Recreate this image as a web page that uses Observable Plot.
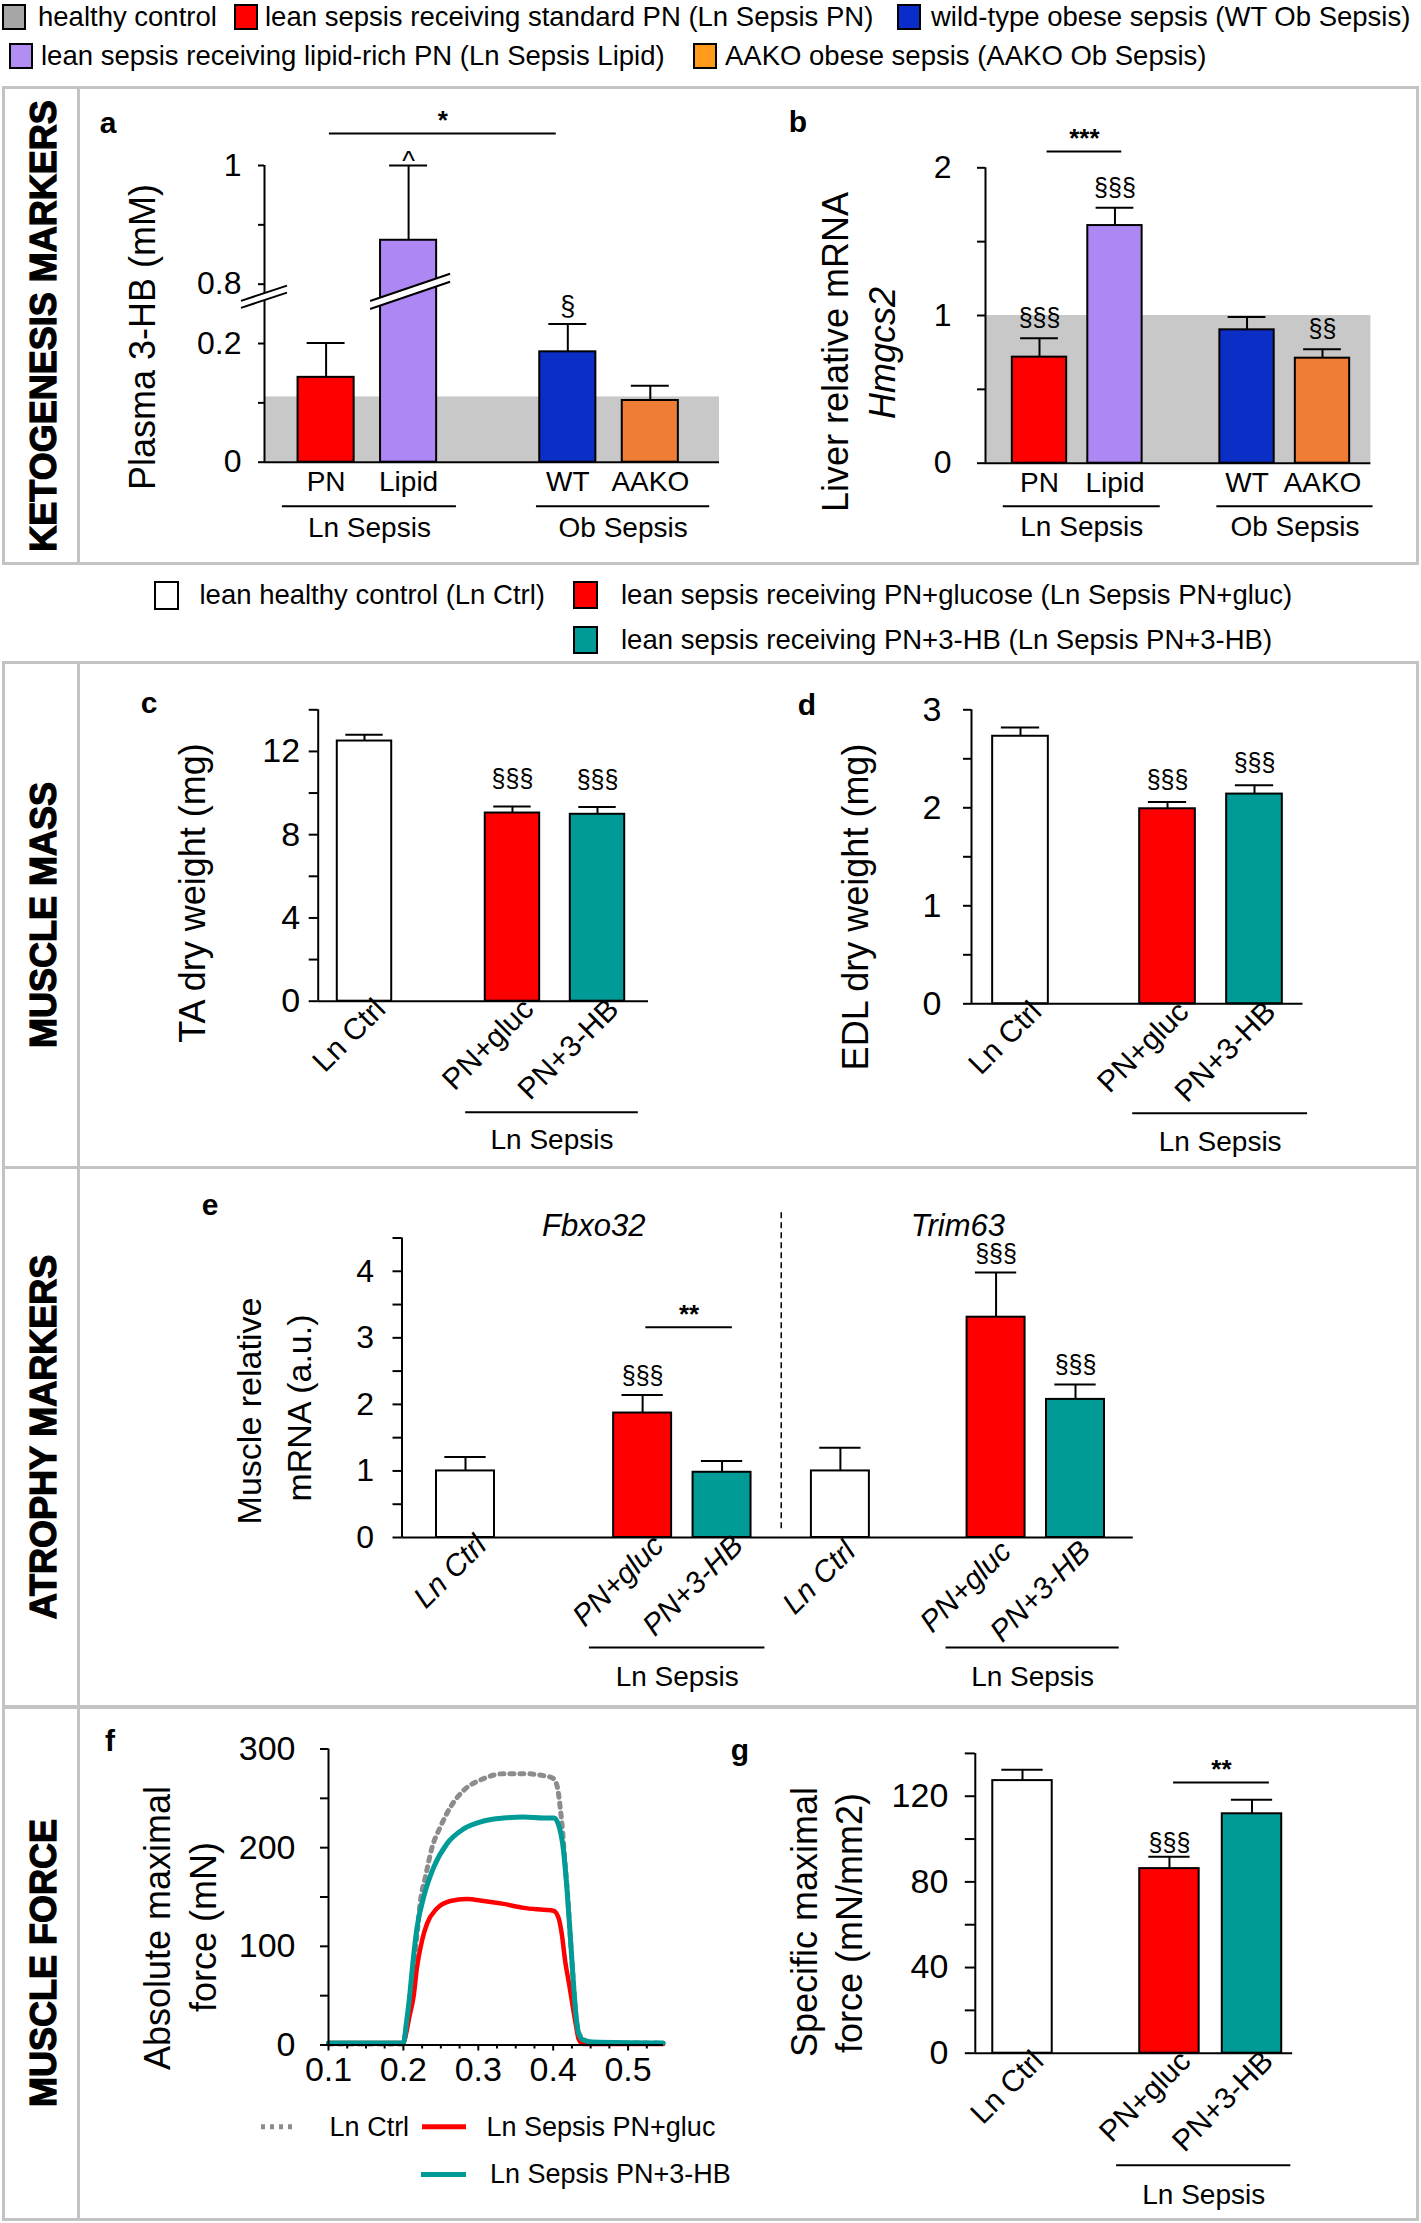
<!DOCTYPE html>
<html><head><meta charset="utf-8">
<script src="https://cdn.jsdelivr.net/npm/d3@7"></script>
<script src="https://cdn.jsdelivr.net/npm/@observablehq/plot@0.6"></script>
<style>
body{margin:0;background:#fff;}
#fig{position:relative;width:1421px;height:2223px;font-family:"Liberation Sans",Arial,Helvetica,sans-serif;color:#000;overflow:hidden;background:#fff}
.abs{position:absolute;white-space:nowrap;line-height:1}
.box{position:absolute;border:3px solid #c3c3c3;box-sizing:border-box}
.plot{position:absolute}
</style></head><body><div id="fig"></div>
<script>
// ---------------- DATA ----------------
const ketoCats = ["PN", "Lipid", "WT", "AAKO"];
const ketoColors = ["#ff0000", "#ad88f4", "#0b2fc6", "#f07d35"];
const plasma3HB = [0.143, 0.874, 0.186, 0.104];
const plasma3HBErr = [0.201, 1.0, 0.233, 0.129];
const plasma3HBSig = ["", "^", "§", ""];
const plasma3HBCtrl = 0.11;
const hmgcs2 = [0.718, 1.609, 0.903, 0.711];
const hmgcs2Err = [0.846, 1.729, 0.989, 0.772];
const hmgcs2Sig = ["§§§", "§§§", "", "§§"];
const hmgcs2Ctrl = 1.0;

const muscleCats = ["Ln Ctrl", "PN+gluc", "PN+3-HB"];
const muscleColors = ["#ffffff", "#ff0000", "#009b96"];
const taWeight = [12.5, 9.04, 8.98];
const taErr = [12.8, 9.36, 9.33];
const taSig = ["", "§§§", "§§§"];
const edlWeight = [2.73, 1.99, 2.14];
const edlErr = [2.82, 2.06, 2.23];
const edlSig = ["", "§§§", "§§§"];
const fbxo32 = [1.0, 1.87, 0.98];
const fbxo32Err = [1.21, 2.14, 1.15];
const fbxo32Sig = ["", "§§§", ""];
const trim63 = [1.0, 3.31, 2.075];
const trim63Err = [1.35, 3.98, 2.30];
const trim63Sig = ["", "§§§", "§§§"];
const specForce = [127.3, 86.2, 111.8];
const specForceErr = [132.4, 91.7, 118.4];
const specForceSig = ["", "§§§", ""];

// force traces [time (s), force (mN)]
const ctrlTrace = [[0.1,1],[0.2,1],[0.204,20],[0.2084,48],[0.2138,79],[0.2182,112],[0.2227,146],[0.2293,170],[0.2382,200],[0.2493,221],[0.2627,241],[0.2804,258],[0.3071,270],[0.3338,275],[0.3604,275],[0.3871,273],[0.4004,270],[0.4057,261],[0.4093,241],[0.4129,214],[0.4156,187],[0.4195,150],[0.4227,112],[0.4271,62],[0.4304,30],[0.434,12],[0.445,4],[0.46,2],[0.547,2]];
const glucTrace = [[0.1,2],[0.2,2],[0.2025,8],[0.2084,30],[0.2138,50],[0.2182,79],[0.2249,106],[0.2316,123],[0.2444,138],[0.2627,146],[0.2844,148],[0.3071,146],[0.3338,143],[0.3604,139],[0.3871,137],[0.4004,136],[0.4071,129],[0.4116,112],[0.416,85],[0.4212,62],[0.4304,20],[0.434,6],[0.44,1],[0.547,1]];
const hbTrace = [[0.1,2],[0.2,2],[0.204,22],[0.2084,50],[0.2129,85],[0.2182,119],[0.2271,150],[0.2404,180],[0.2582,204],[0.2804,219],[0.3071,227],[0.3338,230],[0.3604,231],[0.3871,230],[0.4013,230],[0.4084,220],[0.4138,197],[0.4182,160],[0.4227,112],[0.4271,62],[0.4304,30],[0.434,12],[0.44,5],[0.452,3],[0.547,2]];

// ---------------- HELPERS ----------------
const fig = document.getElementById("fig");
const FONT = '"Liberation Sans", Arial, Helvetica, sans-serif';
function addDiv(html, css) { const d = document.createElement("div"); d.className = "abs"; d.innerHTML = html; Object.assign(d.style, css); fig.appendChild(d); return d; }
function hText(t, x, yc, size, extra = {}) { return addDiv(t, Object.assign({left: x + "px", top: yc + "px", fontSize: size + "px", transform: "translateY(-50%)"}, extra)); }
function cText(t, cx, cy, size, extra = {}) { return addDiv(t, Object.assign({left: cx + "px", top: cy + "px", fontSize: size + "px", transform: "translate(-50%,-50%)"}, extra)); }
function vText(t, cx, cy, size, extra = {}) { return addDiv(t, Object.assign({left: cx + "px", top: cy + "px", fontSize: size + "px", transform: "translate(-50%,-50%) rotate(-90deg)"}, extra)); }
function box(l, t, w, h) { const d = document.createElement("div"); d.className = "box"; Object.assign(d.style, {left: l + "px", top: t + "px", width: w + "px", height: h + "px"}); fig.appendChild(d); }
function vline(x, t, b) { const d = document.createElement("div"); Object.assign(d.style, {position: "absolute", left: x + "px", top: t + "px", width: "3px", height: (b - t) + "px", background: "#c3c3c3"}); fig.appendChild(d); }
function swatch(x, y, w, h, color) { const d = document.createElement("div"); Object.assign(d.style, {position: "absolute", left: x + "px", top: y + "px", width: w + "px", height: h + "px", background: color, border: "2px solid #000", boxSizing: "border-box"}); fig.appendChild(d); }
function place(svg, left, top) { const d = document.createElement("div"); d.className = "plot"; d.style.left = left + "px"; d.style.top = top + "px"; d.appendChild(svg); fig.appendChild(d); }
const baseStyle = {fontFamily: FONT, fontSize: "27px", overflow: "visible", background: "transparent", color: "#000"};

function barPanel(o) {
  const n = o.pos.length;
  const unit = (o.c1 - o.c0) / (o.pos[n - 1] - o.pos[0]);
  const uL = o.pos[0] + (o.axisX - o.c0) / unit;
  const uR = o.pos[0] + (o.xEnd - o.c0) / unit;
  const tr = o.tr || (v => v);
  const xFont = o.xFont || 28;
  const data = o.labels.map((lab, i) => ({pos: o.pos[i], lab, v: tr(o.values[i]), e: tr(o.errs[i]), sig: o.sigs[i], fill: o.colors[i]}));
  const labMap = new Map(data.map(d => [d.pos, d.lab]));
  const groups = (o.groups || []).map(g => ({name: g.name, x1: o.pos[g.from] - g.padL, x2: o.pos[g.to] + g.padR}));
  const brackets = (o.brackets || []).map(b => ({label: b.label, y: tr(b.level), x1: o.pos[b.from] + b.offL, x2: o.pos[b.to] + b.offR}));
  const marks = [];
  if (o.band != null) marks.push(Plot.rect([tr(o.band)], {x1: () => uL, x2: () => uR, y1: () => 0, y2: d => d, fill: "#c8c8c8"}));
  marks.push(
    Plot.rect(data, {x1: d => d.pos - o.hw, x2: d => d.pos + o.hw, y1: () => 0, y2: "v", fill: "fill", stroke: "#000", strokeWidth: 2}),
    Plot.ruleX(data, {x: "pos", y1: "v", y2: "e", stroke: "#000", strokeWidth: 2}),
    Plot.ruleY(data, {y: "e", x1: d => d.pos - o.cw, x2: d => d.pos + o.cw, stroke: "#000", strokeWidth: 2})
  );
  const sigData = data.filter(d => d.sig);
  const sdy = s => (o.sigDyMap && o.sigDyMap[s] != null) ? o.sigDyMap[s] : o.sigDy;
  for (const dy of new Set(sigData.map(d => sdy(d.sig)))) {
    marks.push(Plot.text(sigData.filter(d => sdy(d.sig) === dy), {x: "pos", y: "e", text: "sig", dy, fontSize: o.sigFont || 25}));
  }
  if (brackets.length) marks.push(
    Plot.ruleY(brackets, {y: "y", x1: "x1", x2: "x2", strokeWidth: 2}),
    Plot.text(brackets, {x: d => (d.x1 + d.x2) / 2, y: "y", text: "label", dy: -13, fontSize: 26, fontWeight: "bold"})
  );
  if (o.extra) marks.push(...o.extra);
  marks.push(
    Plot.ruleX([uL], {y1: () => 0, y2: () => o.ymax, strokeWidth: 2}),
    Plot.axisY(o.yticks, {tickFormat: o.fmt, tickSize: o.tickSize, tickPadding: o.tickPad, label: null, strokeWidth: 2, fontSize: o.tickFont}),
    Plot.axisX(o.pos, {tickFormat: d => labMap.get(d), tickSize: 0, tickPadding: o.xPad, tickRotate: o.rotate || 0, label: null, fontSize: xFont, dx: o.xdx || 0, fontStyle: o.xItalic ? "italic" : "normal"}),
    Plot.ruleY(groups, {y: () => 0, x1: "x1", x2: "x2", dy: o.gLineDy, strokeWidth: 2}),
    Plot.text(groups, {x: d => (d.x1 + d.x2) / 2, y: () => 0, text: "name", dy: o.gLabDy, fontSize: 28}),
    Plot.ruleY([0], {strokeWidth: 2})
  );
  const svg = Plot.plot({
    width: o.w, height: o.h,
    marginLeft: o.axisX - o.left, marginRight: o.left + o.w - o.xEnd,
    marginTop: o.yTop - o.top, marginBottom: o.top + o.h - o.yZero,
    x: {domain: [uL, uR], label: null},
    y: {domain: [0, o.ymax], label: null},
    color: {type: "identity"},
    style: baseStyle,
    marks
  });
  const s = d3.select(svg);
  s.selectAll('g[aria-label="y-axis tick label"]').attr("font-size", o.tickFont);
  s.selectAll('g[aria-label="x-axis tick label"]').attr("font-size", xFont).attr("font-style", o.xItalic ? "italic" : null);
  place(svg, o.left, o.top);
  return svg;
}

// ---------------- FRAME BOXES ----------------
box(2, 86, 1417, 479);
vline(77, 86, 565);
box(2, 661, 1417, 508);
box(2, 1166, 1417, 543);
box(2, 1705, 1417, 516);
vline(77, 661, 2221);

// ---------------- LEGENDS ----------------
const LF = 27.5;
swatch(2, 4, 24, 26, "#a6a6a6"); hText("healthy control", 38, 17, LF);
swatch(234, 4, 24, 26, "#ff0000"); hText("lean sepsis receiving standard PN (Ln Sepsis PN)", 265, 17, LF);
swatch(897, 4, 24, 26, "#0a2cc8"); hText("wild-type obese sepsis (WT Ob Sepsis)", 931, 17, LF);
swatch(9, 43, 24, 26, "#b38ef2"); hText("lean sepsis receiving lipid-rich PN (Ln Sepsis Lipid)", 41, 56, LF);
swatch(693, 43, 24, 26, "#ff9a1a"); hText("AAKO obese sepsis (AAKO Ob Sepsis)", 725, 56, LF);

swatch(154, 581, 25, 29, "#ffffff"); hText("lean healthy control (Ln Ctrl)", 199.5, 595, LF);
swatch(573, 581, 25, 28, "#ff0000"); hText("lean sepsis receiving PN+glucose (Ln Sepsis PN+gluc)", 621, 595, LF);
swatch(573, 626, 25, 28, "#009b96"); hText("lean sepsis receiving PN+3-HB (Ln Sepsis PN+3-HB)", 621, 640, LF);

// ---------------- SECTION LABELS ----------------
const SEC = {fontWeight: "bold", webkitTextStroke: "1.2px #000"};
vText("KETOGENESIS MARKERS", 43.6, 325.5, 36, SEC);
vText("MUSCLE MASS", 43.6, 915, 36, SEC);
vText("ATROPHY MARKERS", 43.6, 1437, 36, SEC);
vText("MUSCLE FORCE", 43.6, 1963, 36, SEC);

// panel letters
const PL = {fontWeight: "bold"};
cText("a", 108, 123, 30, PL); cText("b", 798, 122, 30, PL); cText("c", 149, 703, 30, PL);
cText("d", 807, 705, 30, PL); cText("e", 210, 1205, 30, PL); cText("f", 110, 1741, 30, PL); cText("g", 740, 1750, 30, PL);

// y titles
vText("Plasma 3-HB (mM)", 143, 337, 36);
vText("Liver relative mRNA", 836, 351.5, 36);
vText("Hmgcs2", 883, 353, 36, {fontStyle: "italic"});
vText("TA dry weight (mg)", 193, 893, 36);
vText("EDL dry weight (mg)", 856, 906.7, 36);
vText("Muscle relative", 249, 1411, 34);
vText("mRNA (a.u.)", 299, 1408, 34);
vText("Absolute maximal", 158, 1928, 36);
vText("force (mN)", 204, 1927, 36);
vText("Specific maximal", 805, 1922, 36);
vText("force (mN/mm2)", 850, 1923, 36);

// ---------------- PANEL a ----------------
const brk = v => v < 0.5 ? v : v - 0.5;
const aLab = {"0": "0", "0.2": "0.2", "0.3": "0.8", "0.5": "1"};
const svgA = barPanel({
  left: 80, top: 90, w: 640, h: 472, axisX: 264, yTop: 165, yZero: 461.7, xEnd: 719,
  c0: 325.6, c1: 649.8, pos: [0, 1, 2.93, 3.93], hw: 0.34, cw: 0.23,
  labels: ketoCats, values: plasma3HB, errs: plasma3HBErr, sigs: plasma3HBSig, colors: ketoColors,
  tr: brk, band: plasma3HBCtrl, ymax: 0.5, yticks: [0, 0.1, 0.2, 0.3, 0.4, 0.5], fmt: d => aLab[String(d)] || "",
  tickSize: 6, tickPad: 17, tickFont: 32, xPad: 9,
  sigDy: -18, sigDyMap: {"^": -4}, sigFont: 27,
  groups: [{name: "Ln Sepsis", from: 0, to: 1, padL: 0.53, padR: 0.58}, {name: "Ob Sepsis", from: 2, to: 3, padL: 0.38, padR: 0.72}],
  gLineDy: 44, gLabDy: 66,
  brackets: [{from: 0, to: 2, level: 1.054, label: "*", offL: 0.04, offR: -0.14}]
});
{
  const ys = svgA.scale("y"), xs = svgA.scale("x");
  const g = d3.select(svgA).append("g");
  const mk = (cx, cy, hw, slope, gap) => {
    const x0 = cx - hw, x1 = cx + hw, y0 = cy + hw * slope, y1 = cy - hw * slope;
    g.append("path").attr("d", `M${x0},${y0 - gap / 2}L${x1},${y1 - gap / 2}L${x1},${y1 + gap / 2}L${x0},${y0 + gap / 2}Z`).attr("fill", "#fff");
    g.append("path").attr("d", `M${x0},${y0 - gap / 2}L${x1},${y1 - gap / 2}M${x0},${y0 + gap / 2}L${x1},${y1 + gap / 2}`).attr("stroke", "#000").attr("stroke-width", 2).attr("fill", "none");
  };
  mk(184, ys.apply(0.278), 23, 0.33, 7);
  mk(xs.apply(1) + 2, ys.apply(0.287), 40, 0.34, 8);
}

// ---------------- PANEL b ----------------
barPanel({
  left: 720, top: 90, w: 690, h: 472, axisX: 985, yTop: 167.3, yZero: 462.7, xEnd: 1370.4,
  c0: 1039, c1: 1322, pos: [0, 1, 2.75, 3.75], hw: 0.36, cw: 0.25,
  labels: ketoCats, values: hmgcs2, errs: hmgcs2Err, sigs: hmgcs2Sig, colors: ketoColors,
  band: hmgcs2Ctrl, ymax: 2, yticks: [0, 0.5, 1, 1.5, 2], fmt: d => Number.isInteger(d) ? String(d) : "",
  tickSize: 8, tickPad: 26, tickFont: 32, xPad: 9, sigDy: -20,
  groups: [{name: "Ln Sepsis", from: 0, to: 1, padL: 0.48, padR: 0.6}, {name: "Ob Sepsis", from: 2, to: 3, padL: 0.4, padR: 0.67}],
  gLineDy: 43, gLabDy: 64,
  brackets: [{from: 0, to: 1, level: 2.11, label: "***", offL: 0.1, offR: 0.09}]
});

// ---------------- PANEL c ----------------
barPanel({
  left: 80, top: 665, w: 640, h: 500, axisX: 317.7, yTop: 709.3, yZero: 1000.7, xEnd: 648,
  c0: 364, c1: 597, pos: [0, 1.74, 2.74], hw: 0.32, cw: 0.22,
  labels: muscleCats, values: taWeight, errs: taErr, sigs: taSig, colors: muscleColors,
  ymax: 14, yticks: [0, 2, 4, 6, 8, 10, 12, 14], fmt: d => d % 4 === 0 && d < 14 ? String(d) : "",
  tickSize: 9, tickPad: 9, tickFont: 34, xPad: 3, rotate: -45, xdx: 16, xFont: 30, sigDy: -27,
  groups: [{name: "Ln Sepsis", from: 1, to: 2, padL: 0.55, padR: 0.48}],
  gLineDy: 111, gLabDy: 139
});

// ---------------- PANEL d ----------------
barPanel({
  left: 720, top: 665, w: 690, h: 500, axisX: 971, yTop: 709.3, yZero: 1003.3, xEnd: 1302.5,
  c0: 1020, c1: 1254, pos: [0, 1.69, 2.69], hw: 0.32, cw: 0.22,
  labels: muscleCats, values: edlWeight, errs: edlErr, sigs: edlSig, colors: muscleColors,
  ymax: 3, yticks: [0, 0.5, 1, 1.5, 2, 2.5, 3], fmt: d => Number.isInteger(d) ? String(d) : "",
  tickSize: 8, tickPad: 22, tickFont: 34, xPad: 3, rotate: -45, xdx: 16, xFont: 30, sigDy: -22,
  groups: [{name: "Ln Sepsis", from: 1, to: 2, padL: 0.4, padR: 0.61}],
  gLineDy: 109.4, gLabDy: 138.4
});

// ---------------- PANEL e ----------------
const ePos = [0, 2.23, 3.23, 4.72, 6.68, 7.68];
barPanel({
  left: 80, top: 1170, w: 1330, h: 535, axisX: 401.5, yTop: 1237.5, yZero: 1537, xEnd: 1132.8,
  c0: 465, c1: 1075, pos: ePos, hw: 0.365, cw: 0.26,
  labels: muscleCats.concat(muscleCats).map((d, i) => i < 3 ? d : d + " "),
  values: fbxo32.concat(trim63), errs: fbxo32Err.concat(trim63Err), sigs: fbxo32Sig.concat(trim63Sig), colors: muscleColors.concat(muscleColors),
  ymax: 4.5, yticks: [0, 0.5, 1, 1.5, 2, 2.5, 3, 3.5, 4, 4.5], fmt: d => Number.isInteger(d) ? String(d) : "",
  tickSize: 9, tickPad: 19, tickFont: 32, xPad: 3, rotate: -45, xdx: 16, xFont: 30, xItalic: true, sigDy: -19,
  groups: [{name: "Ln Sepsis", from: 1, to: 2, padL: 0.67, padR: 0.54}, {name: "Ln Sepsis", from: 4, to: 5, padL: 0.63, padR: 0.55}],
  gLineDy: 110, gLabDy: 139.5,
  brackets: [{from: 1, to: 2, level: 3.16, label: "**", offL: 0.04, offR: 0.13}],
  extra: [
    Plot.ruleX([(ePos[2] + ePos[3]) / 2], {y1: () => 0.13, y2: () => 4.9, strokeDasharray: "6,4", strokeWidth: 1.5}),
    Plot.text([{name: "Fbxo32", x: (ePos[0] + ePos[2]) / 2}, {name: "Trim63", x: (ePos[3] + ePos[5]) / 2}], {x: "x", text: "name", frameAnchor: "top", dy: -24, fontSize: 31, fontStyle: "italic"})
  ]
});

// ---------------- PANEL f ----------------
{
  const left = 80, top = 1710, w = 640, h = 508;
  const svgF = Plot.plot({
    width: w, height: h, marginLeft: 248, marginRight: 57, marginTop: 38.5, marginBottom: 173.5,
    x: {domain: [0.1, 0.5473], label: null},
    y: {domain: [0, 300], label: null},
    style: baseStyle,
    marks: [
      Plot.line(ctrlTrace, {x: d => d[0], y: d => d[1], stroke: "#8c8c8c", strokeWidth: 5, strokeDasharray: "4,6", curve: "monotone-x"}),
      Plot.line(glucTrace, {x: d => d[0], y: d => d[1], stroke: "#ff0000", strokeWidth: 4.5, curve: "monotone-x"}),
      Plot.line(hbTrace, {x: d => d[0], y: d => d[1], stroke: "#009b96", strokeWidth: 5, curve: "monotone-x"}),
      Plot.ruleX([0.1], {y1: () => 0, y2: () => 300, strokeWidth: 2}),
      Plot.ruleY([0], {strokeWidth: 2}),
      Plot.axisY([0, 50, 100, 150, 200, 250, 300], {tickFormat: d => d % 100 === 0 ? String(d) : "", tickSize: 8, tickPadding: 25, label: null, strokeWidth: 2, fontSize: 34}),
      Plot.axisX(d3.range(4, 22).map(i => +(i * 0.025).toFixed(3)).filter(d => Math.round(d * 40) % 4 !== 0), {tickFormat: () => "", tickSize: 4, label: null, strokeWidth: 2}),
      Plot.axisX([0.1, 0.2, 0.3, 0.4, 0.5], {tickFormat: d => d.toFixed(1), tickSize: 6, tickPadding: 6, label: null, strokeWidth: 2, fontSize: 34})
    ]
  });
  d3.select(svgF).selectAll('g[aria-label="y-axis tick label"],g[aria-label="x-axis tick label"]').attr("font-size", 34);
  place(svgF, left, top);
  // legend for f
  const ns = "http://www.w3.org/2000/svg";
  const lg = document.createElementNS(ns, "svg");
  lg.setAttribute("width", 220); lg.setAttribute("height", 80);
  lg.style.position = "absolute"; lg.style.left = "255px"; lg.style.top = "2110px";
  const ln = (x1, x2, y, c, dash, wdt) => { const l = document.createElementNS(ns, "line"); l.setAttribute("x1", x1); l.setAttribute("x2", x2); l.setAttribute("y1", y); l.setAttribute("y2", y); l.setAttribute("stroke", c); l.setAttribute("stroke-width", wdt); if (dash) l.setAttribute("stroke-dasharray", dash); lg.appendChild(l); };
  ln(6, 39, 16.8, "#8c8c8c", "4,5", 5);
  ln(167, 211, 16.8, "#ff0000", null, 5);
  ln(166, 211, 64.4, "#009b96", null, 5);
  fig.appendChild(lg);
  hText("Ln Ctrl", 329.6, 2126.8, 27);
  hText("Ln Sepsis PN+gluc", 486.5, 2126.8, 27);
  hText("Ln Sepsis PN+3-HB", 490, 2174.4, 27);
}

// ---------------- PANEL g ----------------
barPanel({
  left: 720, top: 1710, w: 690, h: 508, axisX: 974.8, yTop: 1752.9, yZero: 2052.7, xEnd: 1292.2,
  c0: 1022, c1: 1251.5, pos: [0, 1.78, 2.78], hw: 0.36, cw: 0.25,
  labels: muscleCats, values: specForce, errs: specForceErr, sigs: specForceSig, colors: muscleColors,
  ymax: 140, yticks: [0, 20, 40, 60, 80, 100, 120, 140], fmt: d => d % 40 === 0 ? String(d) : "",
  tickSize: 10, tickPad: 17, tickFont: 34, xPad: 3, rotate: -45, xdx: 16, xFont: 30, sigDy: -14,
  groups: [{name: "Ln Sepsis", from: 1, to: 2, padL: 0.64, padR: 0.47}],
  gLineDy: 112, gLabDy: 142,
  brackets: [{from: 1, to: 2, level: 126.4, label: "**", offL: 0.05, offR: 0.21}]
});
</script></body></html>
